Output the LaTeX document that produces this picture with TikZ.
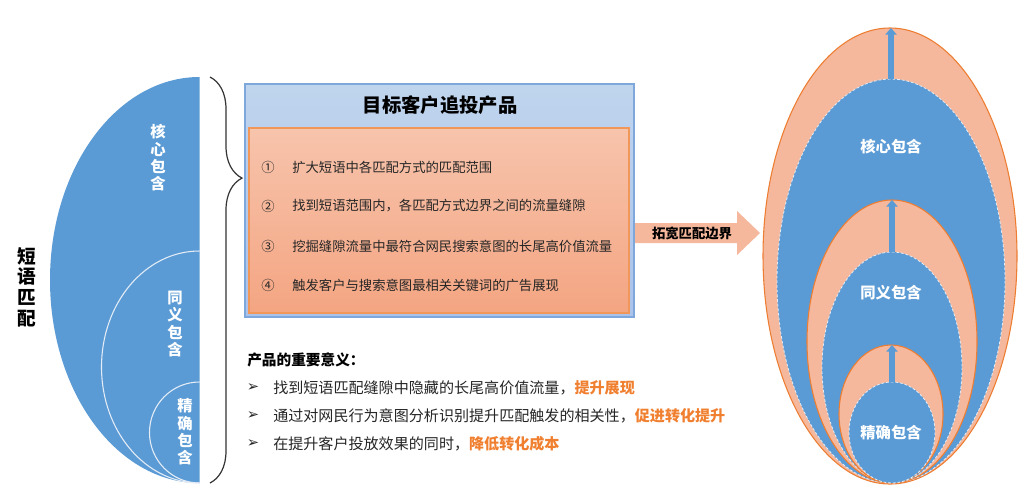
\documentclass[tikz,border=0pt]{standalone}
\usepackage{fontspec}
\setmainfont{Noto Sans CJK SC}
\newfontfamily\dejavu{DejaVu Sans}
\usetikzlibrary{decorations.pathreplacing,arrows.meta}
\definecolor{cblue}{HTML}{5B9BD5}
\definecolor{cboxblue}{HTML}{B4CDEA}
\definecolor{cboxblueb}{HTML}{7EA8DC}
\definecolor{csalmon}{HTML}{F5B89C}
\definecolor{csalmontop}{HTML}{F7C4AC}
\definecolor{csalmonbot}{HTML}{F4A582}
\definecolor{corange}{HTML}{ED7D31}
\definecolor{ctextor}{HTML}{F07F2F}
\definecolor{cline}{HTML}{E4ECF6}
\begin{document}
\begin{tikzpicture}[x=0.75pt,y=-0.75pt,
  vlabel/.style={text=white,font=\bfseries\fontsize{11.5}{13}\selectfont,align=center,inner sep=0pt},
  elabel/.style={text=white,font=\bfseries\fontsize{11.5}{13}\selectfont,inner sep=0pt},
  item/.style={anchor=west,font=\fontsize{10}{12}\selectfont,text=black!85,inner sep=0pt},
  num/.style={font=\fontsize{10}{12}\selectfont,text=black!85,inner sep=0pt},
  bul/.style={anchor=west,font=\fontsize{11.3}{13}\selectfont,text=black!85,inner sep=0pt},
  bmark/.style={font=\dejavu\bfseries\fontsize{11}{12}\selectfont,text=black!85,inner sep=0pt},
  orell/.style={fill=csalmon,draw=corange,line width=0.8pt},
  blell/.style={fill=cblue,draw=cline,dashed,dash pattern=on 2pt off 1.5pt,line width=0.6pt},
  uparrow/.style={draw=cblue,line width=4.5pt,-{Triangle[width=8.5pt,length=5pt]}},
  bracestyle/.style={decorate,decoration={brace,amplitude=24pt,aspect=0.249},line width=0.9pt,draw=black!80}
]
\useasboundingbox[fill=white] (0,0) rectangle (1024,490);

% ---------- left half ellipse ----------
\begin{scope}
\clip (40,60) rectangle (199.5,490);
\fill[cblue] (199.5,280) ellipse[x radius=149.5, y radius=203];
\draw[cline,line width=0.8pt] (199.5,367) ellipse[x radius=98, y radius=116];
\draw[cline,line width=0.8pt] (199.5,432.5) ellipse[x radius=50, y radius=50.5];
\end{scope}
\node[vlabel] (hx) at (158,158) {核\\心\\包\\含};
\node[vlabel] (ty) at (175,324) {同\\义\\包\\含};
\node[vlabel] (jq) at (185,432) {精\\确\\包\\含};
\node[font=\bfseries\fontsize{14}{15.5}\selectfont,align=center,inner sep=0pt] (dy) at (27,287) {短\\语\\匹\\配};

% ---------- brace ----------
\coordinate (bt) at (210,77);
\coordinate (bb) at (210,483);
\draw[bracestyle] (bt) -- (bb);

% ---------- middle box ----------
\shade[top color=cboxblue!85!white,bottom color=cboxblue!95!blue,draw=cboxblueb,line width=1pt] (245,84) rectangle (634,317);
\node[font=\bfseries\fontsize{14.5}{16}\selectfont,inner sep=0pt] (title) at (440,105) {目标客户追投产品};
\shade[top color=csalmontop,bottom color=csalmonbot,draw=corange!80!white,line width=1pt] (249,128) rectangle (629,313);
\node[num] (n1) at (268,167) {①};
\node[item] (t1) at (292,167) {扩大短语中各匹配方式的匹配范围};
\node[num] (n2) at (268,206) {②};
\node[item] (t2) at (292,206) {找到短语范围内，各匹配方式边界之间的流量缝隙};
\node[num] (n3) at (268,246) {③};
\node[item] (t3) at (292,246) {挖掘缝隙流量中最符合网民搜索意图的长尾高价值流量};
\node[num] (n4) at (268,285) {④};
\node[item] (t4) at (292,285) {触发客户与搜索意图最相关关键词的广告展现};

% ---------- big arrow ----------
\fill[csalmon] (635,223) -- (737,223) -- (737,211) -- (760,233) -- (737,255) -- (737,243) -- (635,243) -- cycle;
\node[font=\bfseries\fontsize{10}{12}\selectfont,inner sep=0pt] (arr) at (692,233) {拓宽匹配边界};

% ---------- bottom text ----------
\node[anchor=west,font=\bfseries\fontsize{11}{13}\selectfont,inner sep=0pt] (sig) at (247,360) {产品的重要意义：};
\node[bmark] (b1) at (253,388) {➢};
\node[bul] (s1) at (273,388) {找到短语匹配缝隙中隐藏的长尾高价值流量，\textcolor{ctextor}{\bfseries 提升展现}};
\node[bmark] (b2) at (253,416) {➢};
\node[bul] (s2) at (273,416) {通过对网民行为意图分析识别提升匹配触发的相关性，\textcolor{ctextor}{\bfseries 促进转化提升}};
\node[bmark] (b3) at (253,444) {➢};
\node[bul] (s3) at (273,444) {在提升客户投放效果的同时，\textcolor{ctextor}{\bfseries 降低转化成本}};

% ---------- right ellipses ----------
\filldraw[orell] (890,256) ellipse[x radius=127, y radius=228];
\filldraw[blell] (891,281) ellipse[x radius=114, y radius=202];
\filldraw[orell] (892,341.5) ellipse[x radius=85, y radius=141.5];
\filldraw[blell] (892,367.5) ellipse[x radius=70, y radius=115.5];
\filldraw[orell] (891,414) ellipse[x radius=52, y radius=69];
\filldraw[blell] (892,432.5) ellipse[x radius=43, y radius=50.5];

\coordinate (b1top) at (891,79);
\coordinate (o1top) at (891,28);
\coordinate (b2top) at (892,252);
\coordinate (o2top) at (892,200);
\coordinate (b3top) at (892,382);
\coordinate (o3top) at (892,345);
\draw[uparrow] (b1top) -- (o1top);
\draw[uparrow] (b2top) -- (o2top);
\draw[uparrow] (b3top) -- (o3top);

\node[elabel] (r1) at (891,147) {核心包含};
\node[elabel] (r2) at (891,293) {同义包含};
\node[elabel] (r3) at (891,433) {精确包含};
\end{tikzpicture}
\end{document}
